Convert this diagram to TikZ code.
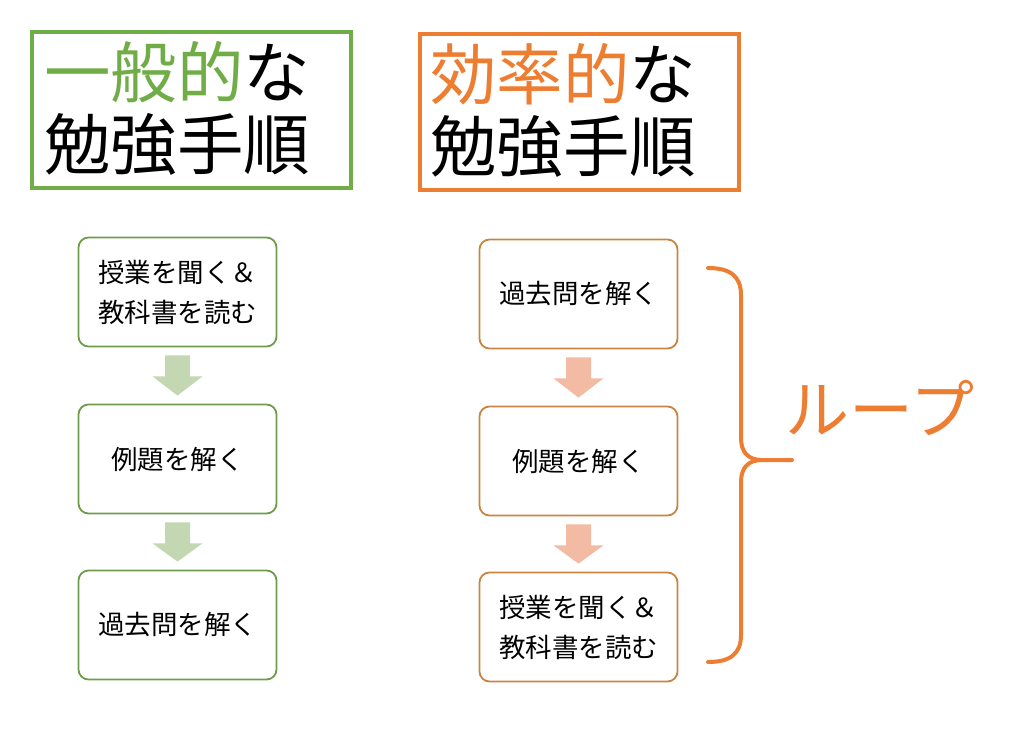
\documentclass[tikz,border=0pt]{standalone}
\usepackage{fontspec}
\setmainfont{Noto Sans CJK JP}
\definecolor{gtitle}{HTML}{70AD47}
\definecolor{gbox}{HTML}{6F9C4B}
\definecolor{garrow}{HTML}{C3D7B3}
\definecolor{otitle}{HTML}{ED7D31}
\definecolor{obox}{HTML}{C98444}
\definecolor{oarrow}{HTML}{F3BBA3}
\begin{document}
\begin{tikzpicture}[x=1pt,y=-1pt,
  titlebox/.style={draw, line width=4pt, minimum width=319pt, minimum height=156pt, inner sep=0pt},
  stepbox/.style={draw, line width=1.8pt, rounded corners=10pt, minimum width=198pt, minimum height=109pt, align=center, font=\fontsize{26.5}{40}\selectfont},
  titletext/.style={align=left, font=\fontsize{66.5}{72}\selectfont, inner sep=0pt, anchor=north west}]
\useasboundingbox (0,0) rectangle (1023,736);
% titles
\node[titlebox, draw=gtitle] (gt) at (191.5,110) {};
\node[titlebox, draw=otitle] (ot) at (579.5,112) {};
\node[titletext] (gtt) at (44,41) {{\color{gtitle}一般的}な\\勉強手順};
\node[titletext] (ott) at (430,43) {{\color{otitle}効率的}な\\勉強手順};
% left column
\node[stepbox, draw=gbox] (l1) at (177.5,292) {授業を聞く＆\\教科書を読む};
\node[stepbox, draw=gbox] (l2) at (177.5,459) {例題を解く};
\node[stepbox, draw=gbox] (l3) at (177.5,625) {過去問を解く};
% right column
\node[stepbox, draw=obox] (r1) at (578.5,294) {過去問を解く};
\node[stepbox, draw=obox] (r2) at (578.5,461) {例題を解く};
\node[stepbox, draw=obox] (r3) at (578.5,627) {授業を聞く＆\\教科書を読む};
% block arrows
\newcommand{\blockarrow}[3]{%
  \fill[#3] ([xshift=-12.5pt,yshift=-8pt]#1) -- ([xshift=12.5pt,yshift=-8pt]#1)
    -- ([xshift=12.5pt,yshift=-29pt]#1) -- ([xshift=25pt,yshift=-29pt]#1)
    -- ([yshift=8pt]#2) -- ([xshift=-25pt,yshift=-29pt]#1)
    -- ([xshift=-12.5pt,yshift=-29pt]#1) -- cycle;}
\blockarrow{l1.south}{l2.north}{garrow}
\blockarrow{l2.south}{l3.north}{garrow}
\blockarrow{r1.south}{r2.north}{oarrow}
\blockarrow{r2.south}{r3.north}{oarrow}
% brace
\coordinate (bt) at (708,268);
\coordinate (bb) at (708,662);
\coordinate (tip) at (792,460);
\draw[otitle, line width=4pt, line cap=round]
  (bt) .. controls (730,268) and (741,276) .. (741,295)
  -- (741,438) .. controls (741,452) and (748,460) .. (762,460) -- (tip);
\draw[otitle, line width=4pt, line cap=round]
  (762,460) .. controls (748,460) and (741,468) .. (741,482)
  -- (741,635) .. controls (741,654) and (730,662) .. (bb);
\node[otitle, font=\fontsize{64}{64}\selectfont, inner sep=0pt] (loop) at (880,408) {ループ};
\end{tikzpicture}
\end{document}
